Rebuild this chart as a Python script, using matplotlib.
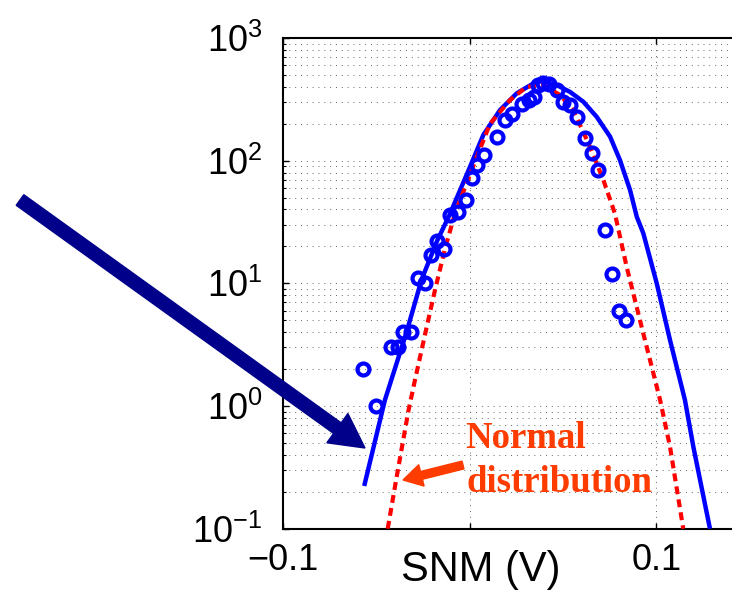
import matplotlib
matplotlib.use("Agg")
import matplotlib.pyplot as plt
import matplotlib.patches as mpatches
from matplotlib.transforms import IdentityTransform
from matplotlib.ticker import LogLocator, NullFormatter

plt.rcParams['font.family'] = ['Liberation Sans', 'DejaVu Sans']
plt.rcParams['mathtext.fontset'] = 'custom'
plt.rcParams['mathtext.rm'] = 'Liberation Sans'
plt.rcParams['mathtext.it'] = 'Liberation Sans:italic'
plt.rcParams['mathtext.bf'] = 'Liberation Sans:bold'

# measured SNM samples (histogram counts)
snm_meas = [-0.0573, -0.0502, -0.0423, -0.0386, -0.0356, -0.0314, -0.0275, -0.0239,
            -0.0209, -0.0177, -0.0138, -0.0106, -0.0064, -0.0021, 0.0011, 0.0038,
            0.0079, 0.0144, 0.0189, 0.0225, 0.0279, 0.0318, 0.0344, 0.0368, 0.0394,
            0.0425, 0.0466, 0.0501, 0.0536, 0.0573, 0.0618, 0.0654, 0.0689, 0.0725,
            0.0764, 0.0801, 0.0836]
cnt_meas = [2, 1, 3, 3, 4, 4, 11, 10,
            17, 22, 19, 36, 38, 48, 72, 92,
            112, 157, 214, 240, 288, 312, 330, 413, 427,
            418, 376, 302, 284, 228, 152, 115, 84, 27,
            12, 6, 5]

# fitted model (solid blue)
snm_fit = [-0.0565, -0.0454, -0.0338, -0.0257, -0.0175, -0.0106, 0.0002, 0.0073,
           0.0162, 0.0252, 0.0341, 0.0386, 0.0466, 0.0537, 0.0609, 0.0680, 0.0752,
           0.0805, 0.0859, 0.0895, 0.0930, 0.1002, 0.1073, 0.1153, 0.1198, 0.1287]
cnt_fit = [0.223, 1.12, 4.01, 10.8, 22.1, 36.7, 89.2, 162,
           258, 354, 426, 445, 413, 364, 302, 228, 157,
           101, 57.6, 34.9, 25.6, 10.0, 3.45, 1.12, 0.466, 0.10]

# normal distribution (dashed red)
snm_norm = [-0.0439, -0.0391, -0.0329, -0.0293, -0.0230, -0.0186, -0.0132, -0.0079,
            0.0038, 0.0109, 0.0216, 0.0305, 0.0394, 0.0484, 0.0555, 0.0644, 0.0716,
            0.0778, 0.0841, 0.0930, 0.1020, 0.1073, 0.1144]
cnt_norm = [0.10, 0.265, 0.9, 1.63, 4.43, 8.8, 19.2, 37,
            107, 200, 312, 400, 413, 343, 258, 130, 69.6,
            37, 13.6, 3.9, 1.12, 0.466, 0.10]

xticks = [-0.1, 0.0, 0.1]
xticklabels = ['\u22120.1', '', '0.1']

fig = plt.figure(figsize=(7.32, 5.90), dpi=100)
ax = fig.add_axes([0.3866, 0.1039, 0.6376, 0.8317])

ax.semilogy(snm_fit, cnt_fit, color='#0000ff', lw=3.2, solid_capstyle='butt',
            solid_joinstyle='round', zorder=3)
ax.semilogy(snm_norm, cnt_norm, color='#ff0000', lw=3.0, linestyle=(0, (1.9, 1.25)),
            dash_capstyle='butt', zorder=4)
ax.semilogy(snm_meas, cnt_meas, 'o', color='#0000ff', mfc='none', ms=8.6, mew=3.0, zorder=5)

ax.set_xlim(-0.1, 0.15)
ax.set_ylim(0.1, 1000)
ax.set_xticks(xticks)
ax.set_xticklabels(xticklabels)
ax.yaxis.set_major_locator(LogLocator(base=10, numticks=10))
ax.yaxis.set_minor_locator(LogLocator(base=10, subs=range(2, 10), numticks=20))
ax.yaxis.set_minor_formatter(NullFormatter())

ax.grid(True, which='major', axis='x', color='0.4', lw=0.7, linestyle=(0, (1, 5)))
ax.grid(True, which='both', axis='y', color='0.4', lw=0.7, linestyle=(0, (1, 5)))

ax.tick_params(axis='both', which='both', direction='in', top=True, right=True)
ax.tick_params(axis='both', which='major', length=4, width=1, labelsize=26)
ax.tick_params(axis='y', which='major', pad=15)
ax.tick_params(axis='x', which='major', pad=10)
ax.tick_params(axis='y', which='minor', length=2.5, width=0.8)
for s in ax.spines.values():
    s.set_linewidth(1.5)

ax.set_xlabel('SNM (V)', fontsize=30)
ax.xaxis.set_label_coords(0.424, -0.043)

# annotation arrows (figure pixels, origin bottom-left)
H = 590
big = mpatches.FancyArrow(20, H - 200, 365 - 20, -(448 - 200), width=13,
                          head_width=36, head_length=34, length_includes_head=True,
                          color='#00008b', transform=IdentityTransform())
fig.add_artist(big)
small = mpatches.FancyArrow(463, H - 465, 403 - 463, -(480 - 465), width=8,
                            head_width=22, head_length=19, length_includes_head=True,
                            color='#ff3c00', transform=IdentityTransform())
fig.add_artist(small)

fig.text(465 / 732, 1 - 448 / 590, 'Normal', fontsize=26.5, fontweight='bold',
         family=['Liberation Serif', 'DejaVu Serif'], color='#ff3c00', va='baseline')
fig.text(467 / 732, 1 - 492 / 590, 'distribution', fontsize=26.5, fontweight='bold',
         family=['Liberation Serif', 'DejaVu Serif'], color='#ff3c00', va='baseline')

fig.savefig('out.png', dpi=100, facecolor='white')
